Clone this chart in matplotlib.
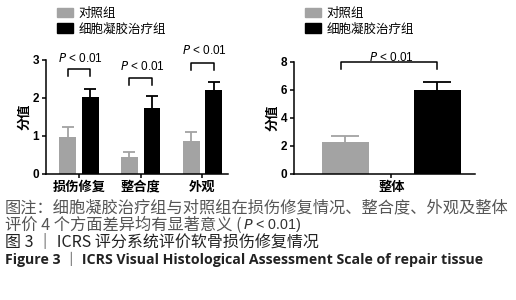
import matplotlib
matplotlib.use("Agg")
import matplotlib.pyplot as plt
import numpy as np
from matplotlib.patches import Patch

plt.rcParams['font.family'] = ['Liberation Sans', 'Noto Sans CJK SC', 'DejaVu Sans']

categories = ["损伤修复", "整合度", "外观"]
control_vals = [0.97, 0.46, 0.87]
control_err = [0.26, 0.11, 0.24]
treat_vals = [2.03, 1.74, 2.22]
treat_err = [0.22, 0.31, 0.19]

overall_cat = ["整体"]
overall_control = [2.28]
overall_control_err = [0.47]
overall_treat = [5.98]
overall_treat_err = [0.57]

legend_labels = ["对照组", "细胞凝胶治疗组"]
ptext = "$\\it{P}$ < 0.01"

GRAY = "#a3a3a3"
BLACK = "#000000"
W, H = 516, 300
fig = plt.figure(figsize=(W / 100, H / 100), dpi=100)

def px_axes(l, t, r, b):
    return fig.add_axes([l / W, 1 - b / H, (r - l) / W, (b - t) / H])

cjk = ['Noto Sans CJK SC', 'DejaVu Sans']

def style(ax):
    for s in ["top", "right"]:
        ax.spines[s].set_visible(False)
    for s in ["left", "bottom"]:
        ax.spines[s].set_linewidth(1.1)
    ax.tick_params(axis='y', length=3, width=1.1, labelsize=8.5, pad=2)
    ax.tick_params(axis='x', length=3, width=1.1, pad=1)
    for lab in ax.get_yticklabels():
        lab.set_fontweight('bold')

def bars_with_upper_err(ax, xs, vals, errs, width, color, capsize):
    ax.bar(xs, vals, width, color=color, zorder=2)
    eb = ax.errorbar(xs, vals, yerr=[np.zeros(len(vals)), errs], fmt='none', ecolor=color,
                     elinewidth=1.3, capsize=capsize, capthick=1.3, zorder=1)
    caps = eb[1]
    if len(caps) == 2:
        caps[0].set_visible(False)

# Left chart
ax1 = px_axes(46, 60, 228, 174)
x = np.arange(len(categories))
off, bw = 0.183, 0.275
bars_with_upper_err(ax1, x - off, control_vals, control_err, bw, GRAY, 4.5)
bars_with_upper_err(ax1, x + off, treat_vals, treat_err, bw, BLACK, 4.5)
ax1.set_xlim(-0.535, 2.415)
ax1.set_ylim(0, 3)
ax1.set_yticks([0, 1, 2, 3])
ax1.set_xticks(x)
ax1.set_xticklabels(categories, family=cjk, fontsize=9.5, fontweight='bold')
ax1.set_ylabel("分值", family=cjk, fontsize=9.5, fontweight='bold', labelpad=1)
style(ax1)
br_top = [2.76, 2.53, 2.93]
br_bot = [2.58, 2.34, 2.74]
txt_y = [3.05, 2.82, 3.24]
for i in range(3):
    ax1.plot([i - off, i - off, i + off, i + off], [br_bot[i], br_top[i], br_top[i], br_bot[i]],
             color='black', lw=1.1, clip_on=False)
    ax1.text(i + 0.03, txt_y[i], ptext, ha='center', va='center', fontsize=8.5, clip_on=False)

# Right chart
ax2 = px_axes(294, 62, 475, 174)
off2, bw2 = 0.5, 0.51
bars_with_upper_err(ax2, [0 - off2], overall_control, overall_control_err, bw2, GRAY, 10)
bars_with_upper_err(ax2, [0 + off2], overall_treat, overall_treat_err, bw2, BLACK, 10)
ax2.set_xlim(-1.06, 0.91)
ax2.set_ylim(0, 8)
ax2.set_yticks([0, 2, 4, 6, 8])
ax2.set_xticks([0])
ax2.set_xticklabels(overall_cat, family=cjk, fontsize=9.5, fontweight='bold')
ax2.set_ylabel("分值", family=cjk, fontsize=9.5, fontweight='bold', labelpad=1)
style(ax2)
ax2.plot([-0.55, -0.55, 0.5, 0.5], [7.5, 8.0, 8.0, 7.5], color='black', lw=1.1, clip_on=False)
ax2.text(0.0, 8.35, ptext, ha='center', va='center', fontsize=8.5, clip_on=False)

# Legends
handles = [Patch(color=GRAY), Patch(color=BLACK)]
for lx in (57, 305):
    fig.legend(handles, legend_labels, loc='upper left', bbox_to_anchor=(lx / W, 1 - 7 / H),
               frameon=False, prop={'family': cjk, 'size': 9}, handlelength=1.3, handleheight=0.8,
               handletextpad=0.4, labelspacing=0.2, borderpad=0, borderaxespad=0)

# Caption
cap_color = "#555555"
fs = 11.7
fig.text(5 / W, 1 - 208 / H, "图注：细胞凝胶治疗组与对照组在损伤修复情况、整合度、外观及整体",
         family=cjk, fontsize=fs, color=cap_color, va='center', ha='left')
t2 = fig.text(5 / W, 1 - 225 / H, "评价 4 个方面差异均有显著意义 (", family=cjk, fontsize=fs,
              color=cap_color, va='center', ha='left')
fig.canvas.draw()
r = t2.get_window_extent()
fig.text((r.x1 + 1) / W, 1 - 225 / H, "$\\it{P}$ < 0.01)", fontsize=10.3, color="#333333",
         va='center', ha='left')
fig.text(5 / W, 1 - 242 / H, "图 3 ｜ ICRS 评分系统评价软骨损伤修复情况", family=cjk,
         fontsize=11.5, color="#222222", va='center', ha='left')
fig.text(5 / W, 1 - 259 / H, "Figure 3 ｜ ICRS Visual Histological Assessment Scale of repair tissue",
         family=['Open Sans', 'Noto Sans CJK SC'], fontweight='bold', fontsize=10.2, color="#222222",
         va='center', ha='left')

fig.savefig("out.png", dpi=100)
